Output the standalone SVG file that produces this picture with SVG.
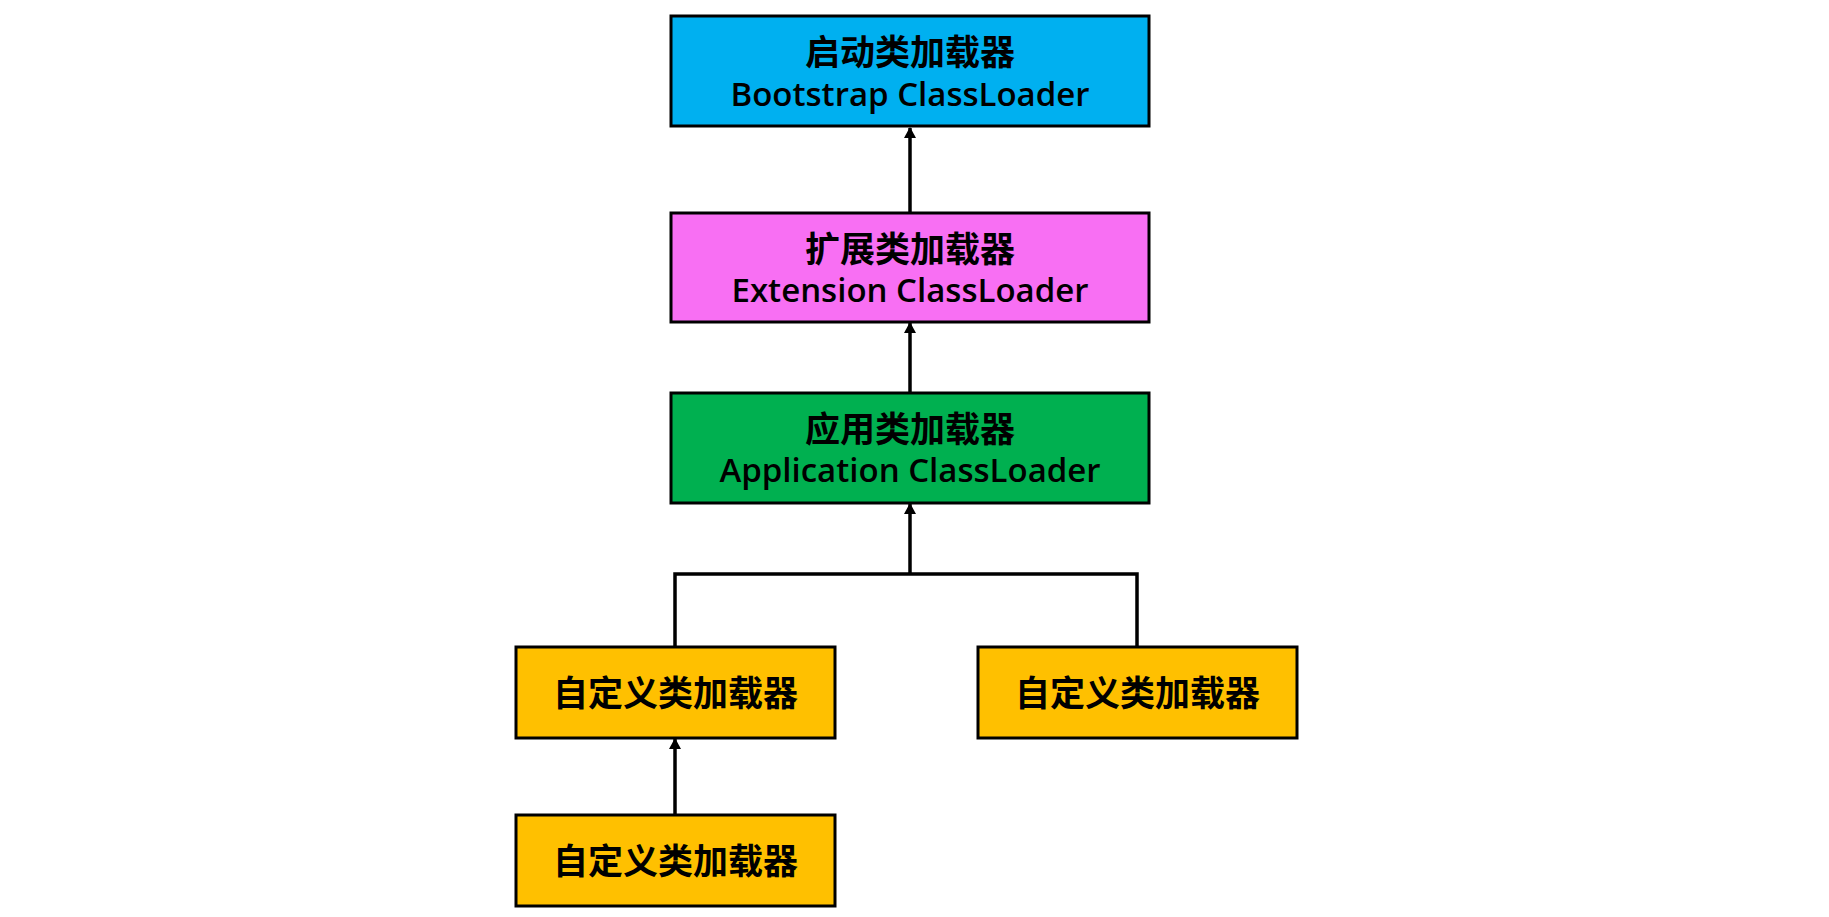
<svg xmlns="http://www.w3.org/2000/svg" width="1829" height="917" viewBox="0 0 1829 917">
<style>
.box{stroke:#000;stroke-width:3}
.zh{font-family:"Noto Sans CJK SC","Noto Sans",sans-serif;font-weight:bold;font-size:35px;text-anchor:middle;fill:#000}
.en{font-family:"Open Sans","Noto Sans",sans-serif;font-weight:600;font-size:33px;text-anchor:middle;fill:#000}
.conn{fill:none;stroke:#000;stroke-width:3.5}
</style>
<defs>
<marker id="arr" markerUnits="userSpaceOnUse" markerWidth="12" markerHeight="13" refX="10" refY="6.5" orient="auto">
<path d="M0,0.5 L11,6.5 L0,12.5 Z" fill="#000"/>
</marker>
</defs>
<rect width="1829" height="917" fill="#fff"/>
<g id="connectors">
<path class="conn" d="M910,212 V128" marker-end="url(#arr)"/>
<path class="conn" d="M910,392 V323" marker-end="url(#arr)"/>
<path class="conn" d="M675,646 V574 H1137 V646"/>
<path class="conn" d="M910,574 V504" marker-end="url(#arr)"/>
<path class="conn" d="M675,814 V739" marker-end="url(#arr)"/>
</g>
<g id="bootstrap">
<rect class="box" x="671" y="16" width="478" height="110" fill="#00B0F0"/>
<text class="zh" x="910" y="65">启动类加载器</text>
<text class="en" x="910" y="106">Bootstrap ClassLoader</text>
</g>
<g id="extension">
<rect class="box" x="671" y="213" width="478" height="109" fill="#F86FF3"/>
<text class="zh" x="910" y="262">扩展类加载器</text>
<text class="en" x="910" y="302">Extension ClassLoader</text>
</g>
<g id="application">
<rect class="box" x="671" y="393" width="478" height="110" fill="#00B050"/>
<text class="zh" x="910" y="442">应用类加载器</text>
<text class="en" x="910" y="482">Application ClassLoader</text>
</g>
<g id="custom1">
<rect class="box" x="516" y="647" width="319" height="91" fill="#FFC000"/>
<text class="zh" x="675.5" y="706">自定义类加载器</text>
</g>
<g id="custom2">
<rect class="box" x="978" y="647" width="319" height="91" fill="#FFC000"/>
<text class="zh" x="1137.5" y="706">自定义类加载器</text>
</g>
<g id="custom3">
<rect class="box" x="516" y="815" width="319" height="91" fill="#FFC000"/>
<text class="zh" x="675.5" y="874">自定义类加载器</text>
</g>
</svg>
